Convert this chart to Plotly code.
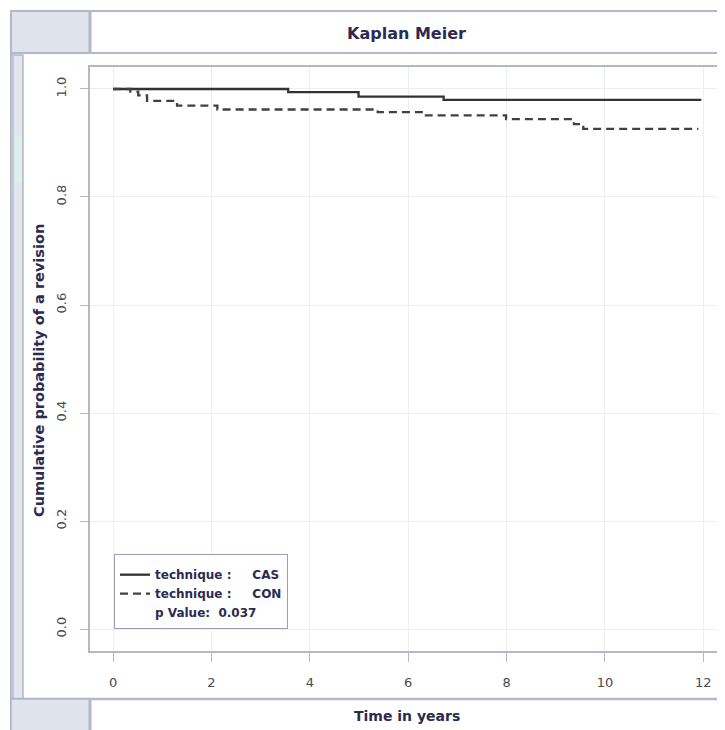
import plotly.graph_objects as go

# Kaplan-Meier step data
cas_time = [0, 3.56, 4.99, 6.72, 11.96]
cas_prob = [1.000, 0.994, 0.986, 0.980, 0.980]

con_time = [0, 0.35, 0.51, 0.69, 1.30, 2.12, 5.38, 6.36, 7.99, 9.37, 9.56, 11.90]
con_prob = [1.000, 0.995, 0.988, 0.978, 0.969, 0.962, 0.957, 0.951, 0.944, 0.935, 0.926, 0.926]

x_ticks = [0, 2, 4, 6, 8, 10, 12]
y_ticks = [0.0, 0.2, 0.4, 0.6, 0.8, 1.0]
y_tick_labels = ["0.0", "0.2", "0.4", "0.6", "0.8", "1.0"]

NB = "\u00a0"
labels = ["technique :" + NB * 5 + "CAS", "technique :" + NB * 5 + "CON", "p Value:" + NB * 2 + "0.037"]

# page body has an 8px margin; the figure is sized so it fills the 725x730 window
OFF = 8
W, H = 725 - OFF, 730 - OFF
def px(x):
    return (x - OFF) / W
def py(y):
    return 1 - (y - OFF) / H

TXT = "#2b2b4f"
BORDER = "#b3b7c9"
GREYBOX = "#dfe3ec"
GRID = "#eceef4"
FONT = "DejaVu Sans, Verdana, sans-serif"

fig = go.Figure()
fig.add_trace(go.Scatter(x=cas_time, y=cas_prob, mode="lines", line_shape="hv",
                         line=dict(color="#333333", width=2.3),
                         name="<b>" + labels[0] + "</b>"))
fig.add_trace(go.Scatter(x=con_time, y=con_prob, mode="lines", line_shape="hv",
                         line=dict(color="#404040", width=2.3, dash="8px,5px"),
                         name="<b>" + labels[1] + "</b>"))
fig.add_trace(go.Scatter(x=[None], y=[None], mode="lines",
                         line=dict(color="rgba(0,0,0,0)", width=1),
                         name="<b>" + labels[2] + "</b>"))

shapes = []
# outer frame
shapes.append(dict(type="rect", xref="paper", yref="paper", x0=px(11), x1=px(722), y0=py(732), y1=py(11),
                   line=dict(color=BORDER, width=2), fillcolor="rgba(0,0,0,0)", layer="below"))
# header grey box
shapes.append(dict(type="rect", xref="paper", yref="paper", x0=px(11), x1=px(90), y0=py(53), y1=py(11),
                   line=dict(color=BORDER, width=2), fillcolor=GREYBOX, layer="below"))
shapes.append(dict(type="line", xref="paper", yref="paper", x0=px(90), x1=px(90), y0=py(53), y1=py(11),
                   line=dict(color=BORDER, width=3), layer="below"))
shapes.append(dict(type="line", xref="paper", yref="paper", x0=px(11), x1=px(722), y0=py(53), y1=py(53),
                   line=dict(color=BORDER, width=2), layer="below"))
# left strip
shapes.append(dict(type="rect", xref="paper", yref="paper", x0=px(11), x1=px(23), y0=py(700), y1=py(55),
                   line=dict(color=BORDER, width=1.5), fillcolor="#e3e6ef", layer="below"))
shapes.append(dict(type="line", xref="paper", yref="paper", x0=px(13), x1=px(13), y0=py(700), y1=py(55),
                   line=dict(color="#c4c7d6", width=2), layer="below"))
shapes.append(dict(type="rect", xref="paper", yref="paper", x0=px(14), x1=px(22), y0=py(183), y1=py(136),
                   line=dict(width=0), fillcolor="#dcefea", layer="below"))
# bottom strip
shapes.append(dict(type="line", xref="paper", yref="paper", x0=px(11), x1=px(722), y0=py(699), y1=py(699),
                   line=dict(color=BORDER, width=2.5), layer="below"))
shapes.append(dict(type="rect", xref="paper", yref="paper", x0=px(11), x1=px(90), y0=py(732), y1=py(699),
                   line=dict(color=BORDER, width=1.5), fillcolor=GREYBOX, layer="below"))
shapes.append(dict(type="line", xref="paper", yref="paper", x0=px(90), x1=px(90), y0=py(732), y1=py(699),
                   line=dict(color=BORDER, width=3), layer="below"))

annotations = [
    dict(text="<b>Kaplan Meier</b>", xref="paper", yref="paper", x=px(407), y=py(33),
         showarrow=False, font=dict(family=FONT, size=16, color=TXT), xanchor="center", yanchor="middle"),
    dict(text="<b>Time in years</b>", xref="paper", yref="paper", x=px(407), y=py(716),
         showarrow=False, font=dict(family=FONT, size=14, color=TXT), xanchor="center", yanchor="middle"),
    dict(text="<b>Cumulative probability of a revision</b>", xref="paper", yref="paper", x=px(39), y=py(371),
         showarrow=False, textangle=-90, font=dict(family=FONT, size=14.5, color=TXT),
         xanchor="center", yanchor="middle"),
]

fig.update_layout(
    width=W, height=H, autosize=False,
    margin=dict(l=0, r=0, t=0, b=0),
    paper_bgcolor="white", plot_bgcolor="white",
    shapes=shapes, annotations=annotations,
    showlegend=True,
    legend=dict(x=px(114), y=py(554), xanchor="left", yanchor="top",
                bordercolor="#9a9eb0", borderwidth=1, bgcolor="white",
                font=dict(family=FONT, size=12, color=TXT),
                title=dict(text=" ", font=dict(size=4)),
                itemwidth=30, tracegroupgap=0),
    xaxis=dict(domain=[px(90), px(721)], range=[-0.47, 12.36],
               tickvals=x_ticks, ticks="outside", ticklen=9, tickcolor=BORDER,
               showline=True, mirror=True, linecolor=BORDER, linewidth=2,
               showgrid=True, gridcolor=GRID, gridwidth=1, zeroline=False,
               tickfont=dict(family=FONT, size=13, color="#4a4a4a"), ticklabelstandoff=9),
    yaxis=dict(domain=[py(651), py(67)], range=[-0.0407, 1.0407],
               tickvals=y_ticks, ticktext=y_tick_labels, tickangle=-90,
               ticks="outside", ticklen=8, tickcolor=BORDER,
               showline=True, mirror=True, linecolor=BORDER, linewidth=2,
               showgrid=True, gridcolor=GRID, gridwidth=1, zeroline=False,
               tickfont=dict(family=FONT, size=13, color="#4a4a4a"), ticklabelstandoff=9),
)

fig.write_html("out.html")
